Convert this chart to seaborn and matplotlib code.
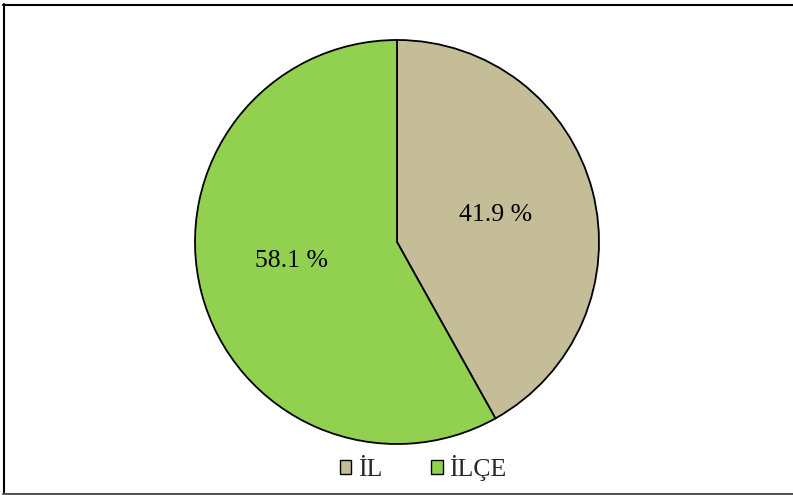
import matplotlib
matplotlib.use("Agg")
import matplotlib.pyplot as plt
import seaborn as sns
import numpy as np
from matplotlib.patches import Patch
from matplotlib.lines import Line2D

sns.set_theme(style="white")
plt.rcParams['font.family'] = ['Liberation Serif', 'DejaVu Serif']

categories = ["İL", "İLÇE"]
values = [41.9, 58.1]
colors = ["#C4BD97", "#92D050"]

W, H = 793, 495
fig = plt.figure(figsize=(W / 100, H / 100), dpi=100)
fig.patch.set_facecolor("white")

cx, cy, r = 397, 242, 202
ax = fig.add_axes([(cx - r) / W, 1 - (cy + r) / H, 2 * r / W, 2 * r / H])
wedges, texts = ax.pie(values, colors=colors, startangle=90, counterclock=False,
                       wedgeprops=dict(edgecolor="black", linewidth=1.3))
ax.set_aspect("equal")
ax.set_xlim(-1, 1)
ax.set_ylim(-1, 1)

label_nudge = [(0.005, 0.01), (-0.04, 0.03)]
start = 90.0
for v, (dx, dy) in zip(values, label_nudge):
    ang = np.deg2rad(start - v / 100 * 360 / 2)
    ax.text(0.5 * np.cos(ang) + dx, 0.5 * np.sin(ang) + dy, f"{v:.1f} %",
            ha="center", va="center", fontsize=18.5, color="black")
    start -= v / 100 * 360

handles = [Patch(facecolor=c, edgecolor="black", linewidth=1.0, label=l)
           for c, l in zip(colors, categories)]
fig.legend(handles=handles, loc="center", bbox_to_anchor=(423 / W, 1 - 468 / H),
           ncol=2, frameon=False, fontsize=18.5, handlelength=0.45, handleheight=0.45,
           handletextpad=0.25, columnspacing=1.9, borderpad=0, borderaxespad=0)

# figure border (left, top, bottom)
fig.add_artist(Line2D([3.5 / W, 3.5 / W], [1 - 4 / H, 1 - 494 / H], color="black", lw=1.5,
                      transform=fig.transFigure))
fig.add_artist(Line2D([3 / W, 1], [1 - 4.5 / H, 1 - 4.5 / H], color="black", lw=1.5,
                      transform=fig.transFigure))
fig.add_artist(Line2D([3 / W, 1], [1 - 494 / H, 1 - 494 / H], color="#555555", lw=1.5,
                      transform=fig.transFigure))

fig.savefig("out.png", dpi=100)
